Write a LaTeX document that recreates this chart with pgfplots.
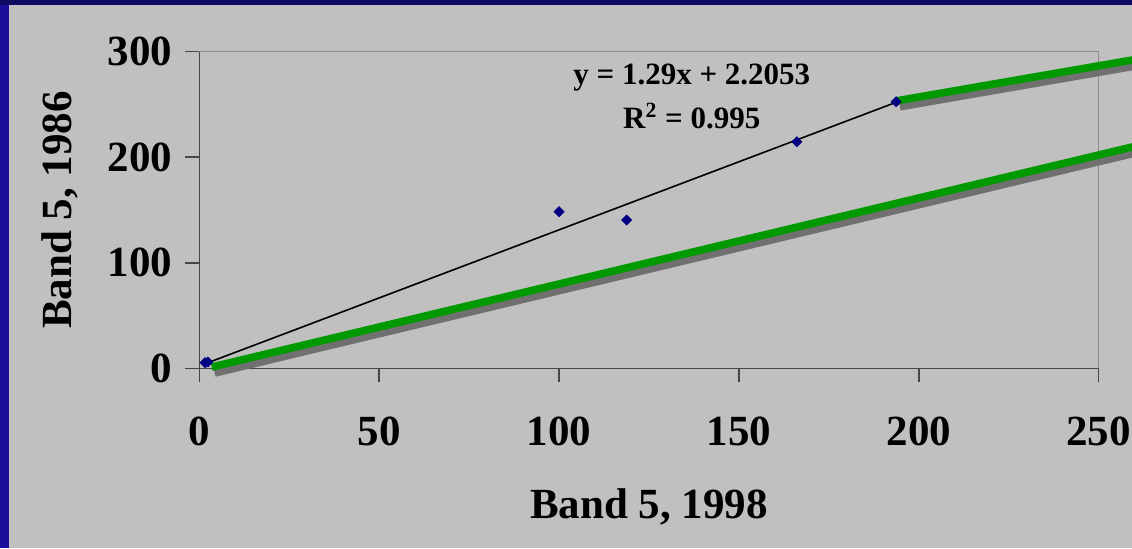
\documentclass[border=0pt]{standalone}
\usepackage{pgfplots}
\pgfplotsset{compat=1.18}
\usepackage{fontspec}
\setmainfont{Liberation Serif}
\definecolor{bgray}{RGB}{192,192,192}
\definecolor{leftblue}{RGB}{26,14,155}
\definecolor{topnavy}{RGB}{14,10,96}
\definecolor{axdark}{RGB}{70,70,70}
\definecolor{bordergray}{RGB}{140,140,140}
\definecolor{mnavy}{RGB}{0,0,128}
\definecolor{lgreen}{RGB}{0,153,0}
\definecolor{shadow}{RGB}{112,112,112}
\begin{document}
\begin{tikzpicture}
\path[use as bounding box] (0pt,0pt) rectangle (566pt,274pt);
\clip (0pt,0pt) rectangle (566pt,274pt);
\fill[leftblue] (0pt,0pt) rectangle (566pt,274pt);
\fill[topnavy] (0pt,271.5pt) rectangle (566pt,274pt);
\fill[bgray] (4.5pt,0pt) rectangle (566pt,271.5pt);
\begin{axis}[
  scale only axis, width=449.7pt, height=158.3pt,
  at={(99.65pt,89.85pt)}, anchor=south west,
  xmin=0, xmax=250, ymin=0, ymax=300,
  clip=false,
  axis x line*=bottom, axis y line*=left,
  axis line style={draw=axdark, line width=0.75pt, -},
  xtick={0,50,100,150,200,250}, ytick={0,100,200,300},
  tick align=outside, major tick length=7pt,
  tick style={draw=axdark, line width=0.75pt},
  /pgf/number format/assume math mode=true,
  scaled ticks=false,
  ticklabel style={font=\fontsize{21.5}{24}\selectfont\bfseries},
  xticklabel shift=14pt, yticklabel shift=3pt,
  label style={font=\fontsize{21.5}{24}\selectfont\bfseries},
  xlabel={Band 5, 1998}, ylabel={Band 5, 1986},
  xlabel style={at={(axis description cs:0.5,-0.4738)}, anchor=base},
  ylabel style={at={(axis description cs:-0.1419,0.5)}, anchor=base},
]
\draw[bordergray, line width=0.75pt] (rel axis cs:0,1) -- (rel axis cs:1,1) -- (rel axis cs:1,0);
\addplot[black, line width=0.8pt] coordinates {(1.6,4.27) (193.7,252.08)};
\addplot[only marks, mark=square*, mark size=1.75pt, mark options={rotate=45, fill=mnavy, draw=mnavy}] coordinates {
(1.6,5.3) (2.4,6.0) (100,148.4) (118.8,140.5) (166.1,214.7) (193.7,252.6)};
\addplot[shadow, line width=3.8pt, xshift=1.5pt, yshift=-3pt] coordinates {(3.45,1.2) (262,211.9)};
\addplot[shadow, line width=3.8pt, xshift=1.5pt, yshift=-3pt] coordinates {(193.9,253.5) (262,293.7)};
\addplot[lgreen, line width=3.8pt] coordinates {(3.45,1.2) (262,211.9)};
\addplot[lgreen, line width=3.8pt] coordinates {(193.9,253.5) (262,293.7)};
\node[font=\fontsize{15.5}{17}\selectfont\bfseries, anchor=base] at (axis cs:136.9,268.5) {y = 1.29x + 2.2053};
\node[font=\fontsize{15.5}{17}\selectfont\bfseries, anchor=base] at (axis cs:136.9,227.7) {R\textsuperscript{2} = 0.995};
\end{axis}
\end{tikzpicture}
\end{document}
